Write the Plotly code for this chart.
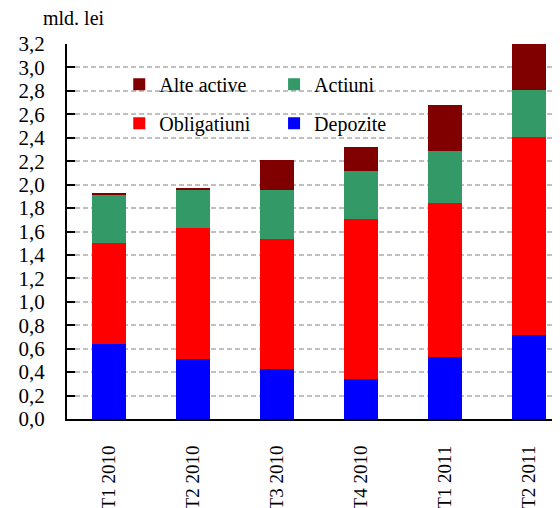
import plotly.graph_objects as go

quarters = ['T1 2010', 'T2 2010', 'T3 2010', 'T4 2010', 'T1 2011', 'T2 2011']

# cumulative tops, converted to segment values
depozite = [0.64, 0.51, 0.43, 0.34, 0.53, 0.72]
obligatiuni = [0.86, 1.12, 1.11, 1.37, 1.31, 1.69]
actiuni = [0.41, 0.32, 0.41, 0.41, 0.45, 0.40]
alte_active = [0.02, 0.02, 0.26, 0.20, 0.39, 0.39]

y_ticks = [0.0, 0.2, 0.4, 0.6, 0.8, 1.0, 1.2, 1.4, 1.6, 1.8, 2.0,
           2.2, 2.4, 2.6, 2.8, 3.0, 3.2]

serif = 'Liberation Serif'

fig = go.Figure()
fig.add_trace(go.Bar(x=quarters, y=depozite, name='Depozite',
                     marker=dict(color='#0000ff', line_width=0), width=0.4,
                     legend='legend2', legendgroup='d', legendrank=2))
fig.add_trace(go.Bar(x=quarters, y=obligatiuni, name='Obligatiuni',
                     marker=dict(color='#ff0000', line_width=0), width=0.4,
                     legend='legend', legendgroup='o', legendrank=2))
fig.add_trace(go.Bar(x=quarters, y=actiuni, name='Actiuni',
                     marker=dict(color='#339966', line_width=0), width=0.4,
                     legend='legend2', legendgroup='a', legendrank=1))
fig.add_trace(go.Bar(x=quarters, y=alte_active, name='Alte active',
                     marker=dict(color='#800000', line_width=0), width=0.4,
                     legend='legend', legendgroup='x', legendrank=1))

legend_style = dict(
    bgcolor='rgba(0,0,0,0)',
    font=dict(family=serif, size=20, color='black'),
    traceorder='grouped',
    tracegroupgap=10,
    itemwidth=30,
    xanchor='left', yanchor='top',
)

# page body adds an 8px offset, so margins are shifted by 8
fig.update_layout(
    template='none',
    barmode='stack',
    width=560, height=508,
    margin=dict(l=59, r=8, t=36, b=97, autoexpand=False),
    plot_bgcolor='white',
    paper_bgcolor='white',
    separators=', ',
    font=dict(family=serif, size=20, color='black'),
    legend=dict(x=0.106, y=0.945, **legend_style),
    legend2=dict(x=0.42, y=0.945, **legend_style),
    xaxis=dict(
        range=[-0.5, 5.37],
        automargin=False,
        showline=True, linecolor='black', linewidth=2,
        showgrid=False,
        ticks='', tickangle=-90,
        ticklabelstandoff=17,
        tickfont=dict(family=serif, size=19, color='black'),
    ),
    yaxis=dict(
        range=[0, 3.2],
        automargin=False,
        tickvals=y_ticks,
        tickformat='.1f',
        showline=True, linecolor='black', linewidth=2,
        ticks='inside', ticklen=8, tickwidth=2, tickcolor='black',
        ticklabelstandoff=16,
        showgrid=True, gridcolor='#c0c0c0', gridwidth=1.5, griddash='5px,3px',
        zeroline=False,
        tickfont=dict(family=serif, size=21, color='black'),
    ),
    shapes=[dict(type='rect', xref='paper', yref='paper',
                 x0=0.09, x1=0.73, y0=0.72, y1=0.96,
                 fillcolor='white', line_width=0, layer='between')],
    annotations=[dict(text='mld. lei', xref='paper', yref='paper',
                      x=-0.052, y=1.07, xanchor='left', yanchor='middle',
                      showarrow=False,
                      font=dict(family=serif, size=20, color='black'))],
)

fig.write_html("out.html")
